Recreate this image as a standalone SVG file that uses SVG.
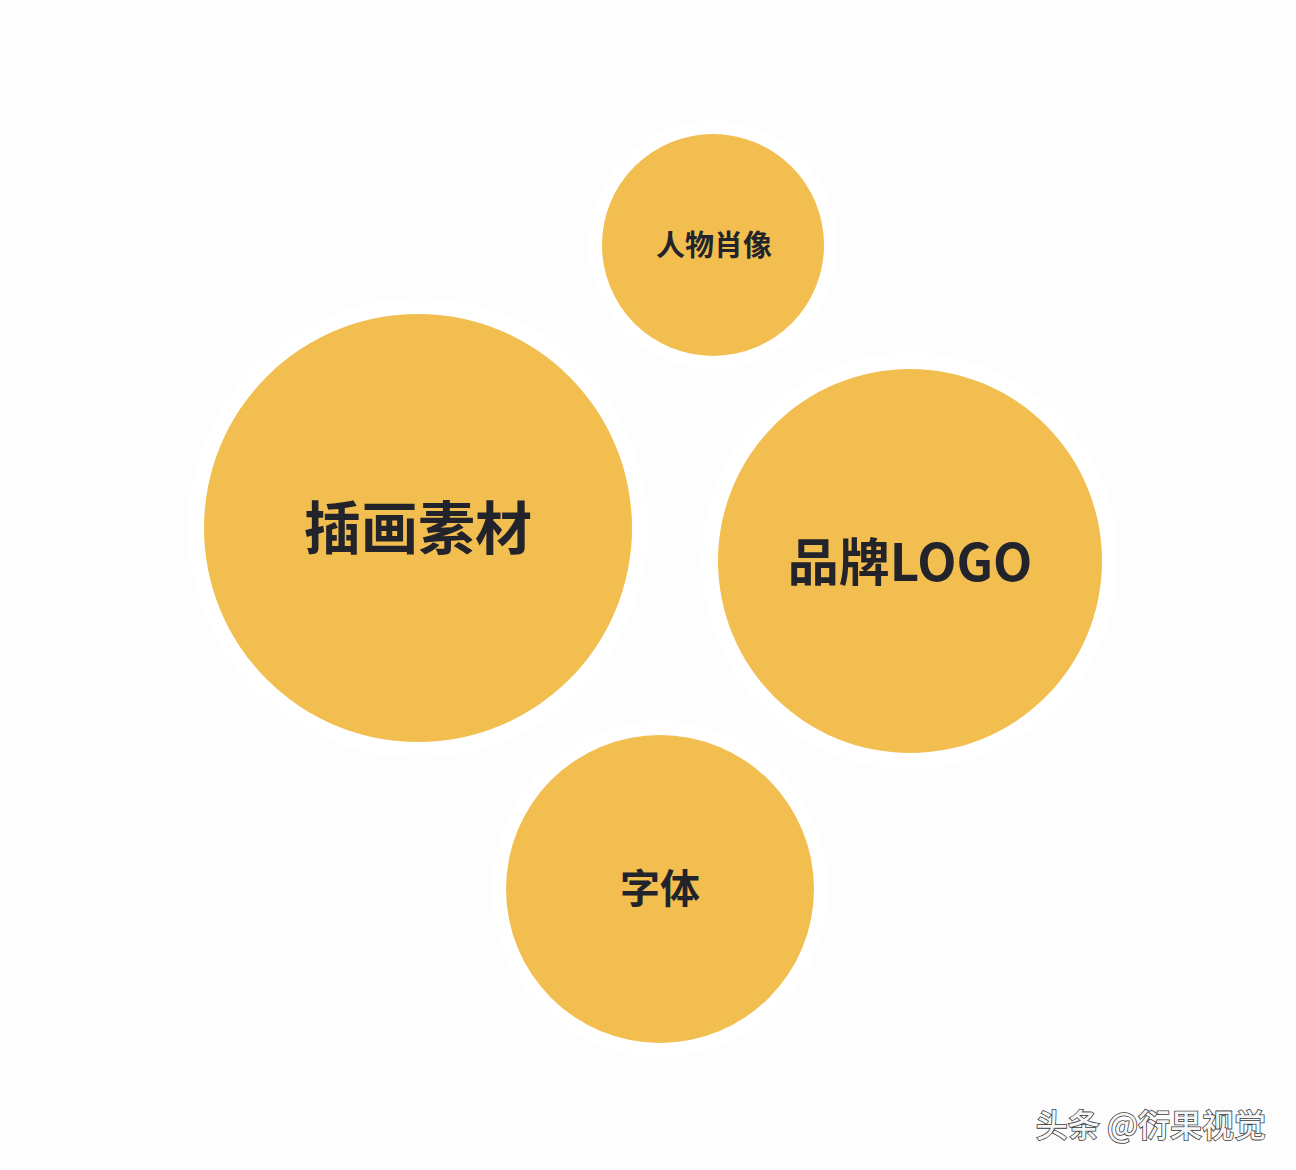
<svg xmlns="http://www.w3.org/2000/svg" width="1296" height="1170" viewBox="0 0 1296 1170">
<defs>
<style>
.c{fill:#F2BE4F}
.h{fill:#FFFFFF}
.t{font-family:"Noto Sans CJK SC","Noto Sans",sans-serif;font-weight:700;fill:#23232C;text-anchor:middle;dominant-baseline:central}
.w{font-family:"Noto Sans CJK SC","Noto Sans",sans-serif;font-weight:500;font-size:32px;fill:#F6F6F6;stroke:#3A3A3A;stroke-width:1.6px;paint-order:stroke;text-anchor:end;dominant-baseline:central}
</style>
</defs>
<rect width="1296" height="1170" fill="#FDFDFD"/>
<g id="halos">
<circle class="h" cx="713" cy="245" r="124"/>
<circle class="h" cx="418" cy="528" r="230"/>
<circle class="h" cx="910" cy="561" r="208"/>
<circle class="h" cx="660" cy="889" r="168"/>
</g>
<g id="node-portrait">
<circle class="c" cx="713" cy="245" r="111"/>
<text class="t" x="714" y="243" font-size="29">人物肖像</text>
</g>
<g id="node-illustration">
<circle class="c" cx="418" cy="528" r="214"/>
<text class="t" x="418" y="524" font-size="57">插画素材</text>
</g>
<g id="node-logo">
<circle class="c" cx="910" cy="561" r="192"/>
<text class="t" x="910" y="559" font-size="51">品牌LOGO</text>
</g>
<g id="node-font">
<circle class="c" cx="660" cy="889" r="154"/>
<text class="t" x="660" y="886" font-size="40">字体</text>
</g>
<g id="connectors"></g>
<text class="w" x="1266" y="1123">头条 @衍果视觉</text>
</svg>
